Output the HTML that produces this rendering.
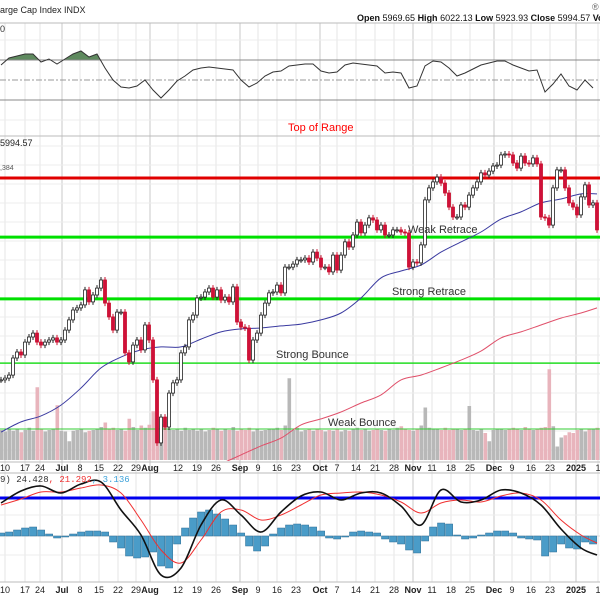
<!DOCTYPE html>
<html><head><meta charset="utf-8">
<style>
html,body{margin:0;padding:0;background:#fff;}
svg{display:block;font-family:"Liberation Sans",sans-serif;}
</style></head>
<body>
<svg id="chart" width="600" height="600" viewBox="0 0 600 600">
  <rect x="0" y="0" width="600" height="600" fill="#fff"/>
  <text x="0" y="13" font-size="9" fill="#222">arge Cap Index  INDX</text>
  <text x="592" y="10" font-size="9" fill="#666">®</text>
  <text x="357" y="21" font-size="9" fill="#111"><tspan font-weight="bold">Open</tspan> 5969.65 <tspan font-weight="bold">High</tspan> 6022.13 <tspan font-weight="bold">Low</tspan> 5923.93 <tspan font-weight="bold">Close</tspan> 5994.57 <tspan font-weight="bold">Volume</tspan> 3.3B <tspan font-weight="bold">Chg</tspan> -</text>
  <g id="grid"></g>
  <g id="rsi"></g>
  <g id="price"></g>
  <g id="macd"></g>
  <g id="axes"></g>
</svg>
<script>
// ---- data ----
const closes = [5377,5383,5393,5450,5470,5460,5503,5520,5533,5503,5493,5503,5510,5517,5503,5510,5543,5577,5610,5617,5627,5677,5637,5660,5683,5710,5633,5587,5543,5603,5603,5467,5437,5493,5510,5477,5560,5510,5377,5167,5253,5220,5333,5367,5377,5467,5487,5577,5593,5650,5653,5670,5683,5653,5677,5643,5653,5637,5687,5570,5553,5550,5443,5510,5533,5593,5633,5667,5670,5693,5667,5753,5753,5763,5777,5777,5783,5770,5803,5783,5753,5753,5737,5793,5743,5793,5837,5820,5860,5903,5867,5893,5917,5910,5877,5893,5860,5860,5877,5877,5870,5867,5753,5770,5767,5827,5977,6017,6037,6053,6033,6000,5953,5920,5920,5960,5953,5993,6017,6037,6067,6060,6073,6090,6093,6127,6130,6127,6100,6083,6123,6100,6097,6117,6097,5920,5917,5893,6017,6077,6077,6017,5967,5953,5927,5987,6027,5960,5967,5877];
const volumes = [4.0,3.8,4.1,3.9,4.2,3.7,4.0,4.3,3.9,9.7,4.1,3.8,4.0,4.2,7.3,3.9,3.8,2.5,3.9,4.0,4.1,3.7,3.9,4.0,4.2,4.4,5.0,4.1,4.3,4.0,4.2,3.9,5.5,4.4,4.0,4.6,4.3,4.7,6.5,5.5,4.8,4.5,4.2,4.0,4.1,3.9,4.3,4.0,4.2,3.9,4.1,3.8,4.0,4.3,4.1,3.9,4.2,4.0,4.4,3.9,4.1,4.0,4.3,3.8,4.1,3.9,4.0,4.2,4.1,4.3,4.0,4.6,10.9,4.0,4.3,3.8,4.0,4.2,3.9,4.1,4.0,3.8,4.0,3.9,4.1,3.8,4.0,3.9,4.1,4.3,4.0,4.1,3.9,4.0,4.2,4.0,3.9,4.1,4.0,4.3,4.5,4.2,4.0,3.9,4.2,4.6,7.0,4.3,4.2,4.1,4.0,4.3,4.0,4.1,4.2,4.0,4.1,7.2,4.0,3.9,4.1,3.6,2.5,4.0,4.1,4.2,4.0,4.1,4.3,4.2,4.0,4.4,4.2,4.0,4.1,4.3,4.4,12.1,4.5,1.8,3.0,3.3,3.7,3.6,4.0,4.2,3.8,4.2,4.1,4.3,4.0,3.9];
const ma50 = [5203,5237,5257,5293,5350,5417,5453,5477,5487,5487,5513,5537,5547,5550,5557,5563,5577,5600,5650,5717,5740,5760,5803,5837,5870,5913,5937,5967,5980,5997,5997];
const ma50Idx = [0,5,10,15,20,25,30,35,40,45,50,55,60,65,70,75,80,85,90,95,100,105,110,115,120,125,130,135,140,145,149];
const ma200 = [5097,5127,5157,5183,5227,5247,5270,5300,5327,5377,5393,5417,5443,5473,5517,5537,5560,5583,5600,5617];
const ma200Idx = [55,60,65,70,75,80,85,90,95,100,105,110,115,120,125,130,135,140,145,149];
const rsi = [65,72,74,76,76,68,71,66,71,76,79,73,76,62,50,43,42,44,50,40,32,40,49,54,60,62,63,62,61,60,50,43,47,54,58,59,64,65,66,66,59,57,58,65,67,66,65,64,57,58,57,42,44,64,69,68,62,54,57,61,65,67,69,69,65,62,59,60,38,46,56,44,40,50,42];
const macdLine = [33,45,50,43,52,54,26,1,-39,-32,11,36,21,4,24,40,44,36,43,43,30,11,46,34,36,46,43,31,7,-12,-19];
const signalLine = [31,37,44,44,48,51,43,16,-14,-27,-4,24,26,16,21,31,41,43,44,41,34,23,33,36,34,40,43,36,16,1,-7];
const macdIdx = [0,5,10,15,20,25,30,35,40,45,50,55,60,65,70,75,80,85,90,95,100,105,110,115,120,125,130,135,140,145,149];
const hist = [3,4,6,8,9,6,2,-2,-1,2,4,5,5,4,-6,-12,-20,-22,-21,-16,-30,-32,-8,8,18,24,26,22,17,11,3,-10,-15,-10,2,8,11,12,11,9,5,-2,-3,-1,4,5,4,3,-3,-6,-8,-14,-17,-5,9,13,12,1,-3,-2,1,3,5,5,3,-2,-3,-4,-20,-16,-8,-12,-13,-6,-8];
const tickLabels = ["10","17","24","Jul","8","15","22","29","Aug","12","19","26","Sep","9","16","23","Oct","7","14","21","28","Nov","11","18","25","Dec","9","16","23","2025","1"];
const tickPos = [5,25,40,62,80,99,118,136,150,178,197,216,240,258,277,296,320,337,356,375,394,413,432,451,470,494,512,531,550,576,598];
const levels = [6050,5853,5647,5433];

// ---- scales ----
const NS = "http://www.w3.org/2000/svg";
const xDay = i => 1 + i * 4;
const yPrice = p => 178 + (6050 - p) * 0.3;
const yVol = v => 460 - v * 7.5;
const yRsi = r => 130 - r;
const yMacd = v => 536 - v;
function mk(tag, attrs, parent){ const e=document.createElementNS(NS,tag); for(const k in attrs) e.setAttribute(k,attrs[k]); parent.appendChild(e); return e; }
const G = id => document.getElementById(id);
function smooth(pts){
  let d='M'+pts[0][0]+','+pts[0][1];
  for(let i=0;i<pts.length-1;i++){
    const p0=pts[i-1]||pts[i], p1=pts[i], p2=pts[i+1], p3=pts[i+2]||p2;
    const c1=[p1[0]+(p2[0]-p0[0])/6, p1[1]+(p2[1]-p0[1])/6];
    const c2=[p2[0]-(p3[0]-p1[0])/6, p2[1]-(p3[1]-p1[1])/6];
    d+=' C'+c1[0]+','+c1[1]+' '+c2[0]+','+c2[1]+' '+p2[0]+','+p2[1];
  }
  return d;
}

// ---- grid ----
const grid = G('grid');
const monthIdx = [3,8,12,16,21,25,29];
tickPos.forEach((x,k)=>{
  const major = monthIdx.includes(k);
  const l = mk('line',{x1:x,x2:x,y1:23,y2:582,stroke:major?'#c8c8c8':'#e6e6e6','stroke-width':1},grid);
  
  
});
for(let y=146;y<460;y+=19){
  const l = mk('line',{x1:0,x2:600,y1:y,y2:y,stroke:'#ececec','stroke-width':1},grid);
  
  
}
[40,120,515,555].forEach(y=>{
  const l = mk('line',{x1:0,x2:600,y1:y,y2:y,stroke:'#ececec','stroke-width':1},grid);
  
  
});
[[0,23],[0,136],[0,462],[0,473],[0,582]].forEach(([x,y])=>{
  const l = mk('line',{x1:0,x2:600,y1:y,y2:y,stroke:'#bbb','stroke-width':1},grid);
  
  
});

// ---- RSI ----
const rsiG = G('rsi');
const rsiPts = rsi.map((r,j)=>[1+j*8, yRsi(r)]);
mk('clipPath',{id:'above70'},rsiG).appendChild((()=>{const r=document.createElementNS(NS,'rect');r.setAttribute('x',0);r.setAttribute('y',0);r.setAttribute('width',600);r.setAttribute('height',yRsi(70));return r;})());
const area = mk('path',{d:'M'+rsiPts[0][0]+','+yRsi(70)+' '+rsiPts.map(p=>'L'+p[0]+','+p[1]).join(' ')+' L'+rsiPts[rsiPts.length-1][0]+','+yRsi(70)+'Z',fill:'#5f8a5f','clip-path':'url(#above70)'},rsiG);


[[70,'#888',''],[30,'#888',''],[50,'#999','6,2,2,2']].forEach(([v,c,d])=>{
  const l = mk('line',{x1:0,x2:600,y1:yRsi(v),y2:yRsi(v),stroke:c,'stroke-width':1,'stroke-dasharray':d},rsiG);
  
  
});
const rl = mk('polyline',{points:rsiPts.map(p=>p.join(',')).join(' '),fill:'none',stroke:'#333','stroke-width':1},rsiG);


const rt = mk('text',{x:0,y:32,'font-size':9,fill:'#333'},rsiG); rt.textContent='0';



// ---- price ----
const pg = G('price');
mk('clipPath',{id:'pclip'},pg).appendChild((()=>{const r=document.createElementNS(NS,'rect');r.setAttribute('x',0);r.setAttribute('y',137);r.setAttribute('width',600);r.setAttribute('height',324);return r;})());
volumes.forEach((v,i)=>{
  const down = i>0 && closes[i]<closes[i-1];
  const r = mk('rect',{x:xDay(i)-1.5,y:yVol(v),width:3.6,height:460-yVol(v),fill:down?'#e8b4bc':'#b8b8b8'},pg);
  
  
});
const lvStyle = [['#e00000',3],['#00e000',3],['#00e000',3],['#22dd22',1.5]];
levels.forEach((p,k)=>{
  const l = mk('line',{x1:0,x2:600,y1:yPrice(p),y2:yPrice(p),stroke:lvStyle[k][0],'stroke-width':lvStyle[k][1]},pg);
  
  
});
const wb = mk('line',{x1:0,x2:600,y1:429,y2:429,stroke:'#33cc33','stroke-width':1},pg);


const m2 = mk('path',{d:smooth(ma200.map((v,k)=>[xDay(ma200Idx[k]),yPrice(v)])),fill:'none',stroke:'#e0506a','stroke-width':1,'clip-path':'url(#pclip)'},pg);


const m1 = mk('path',{d:smooth(ma50.map((v,k)=>[xDay(ma50Idx[k]),yPrice(v)])),fill:'none',stroke:'#3a3aa0','stroke-width':1},pg);


closes.forEach((c,i)=>{
  const o = i>0 ? closes[i-1] : c;
  const down = c<o;
  const x = xDay(i);
  const top = yPrice(Math.max(o,c)), bot = yPrice(Math.min(o,c));
  const w = mk('line',{x1:x,x2:x,y1:top-3,y2:bot+3,stroke:down?'#c8102e':'#222','stroke-width':1},pg);
  
  
  const b = mk('rect',{x:x-1.5,y:top,width:3,height:Math.max(1,bot-top),fill:down?'#d0103a':'#fff',stroke:down?'#c8102e':'#222','stroke-width':0.8},pg);
  
  
});
[['Top of Range',288,131,'#f00'],['Weak Retrace',408,233,'#333'],['Strong Retrace',392,295,'#333'],['Strong Bounce',276,358,'#333'],['Weak Bounce',328,426,'#333']].forEach(([t,x,y,c])=>{
  const e = mk('text',{x:x,y:y,'font-size':11,fill:c},pg); e.textContent=t;
  
  
});
const pl = mk('text',{x:0,y:146,'font-size':9,fill:'#222'},pg); pl.textContent='5994.57';


const ml = mk('text',{x:0,y:170,'font-size':7,fill:'#555'},pg); ml.textContent=',384';



// ---- MACD ----
const mg = G('macd');
const zl = mk('line',{x1:0,x2:600,y1:yMacd(0),y2:yMacd(0),stroke:'#ddd','stroke-width':1},mg);


hist.forEach((v,j)=>{
  const y0=yMacd(0), y1=yMacd(v);
  const r = mk('rect',{x:1+j*8-3.5,y:Math.min(y0,y1),width:7.2,height:Math.max(0.5,Math.abs(y1-y0)),fill:'#4a9cc8',stroke:'#2f6f95','stroke-width':0.5},mg);
  
  
});
const bl = mk('line',{x1:0,x2:600,y1:498,y2:498,stroke:'#0000ee','stroke-width':3},mg);


const sl = mk('path',{d:smooth(signalLine.map((v,k)=>[xDay(macdIdx[k]),yMacd(v)])),fill:'none',stroke:'#f03030','stroke-width':1},mg);


const mline = mk('path',{d:smooth(macdLine.map((v,k)=>[xDay(macdIdx[k]),yMacd(v)])),fill:'none',stroke:'#111','stroke-width':1.6},mg);


const mt = mk('text',{x:0,y:482,'font-size':9,'font-family':'Liberation Mono, monospace',fill:'#333'},mg);
mt.innerHTML='9) 24.428<tspan fill="#f03030">, 21.292</tspan><tspan fill="#3aa0d8">, 3.136</tspan>';



// ---- axes ----
const ax = G('axes');
[471,593].forEach(y=>{
  tickLabels.forEach((t,k)=>{
    const major = monthIdx.includes(k);
    const e = mk('text',{x:tickPos[k],y:y,'font-size':9,'text-anchor':'middle','font-weight':major?'bold':'normal',fill:'#222'},ax);
    e.textContent=t;
    
    
  });
});
</script>
</body></html>
